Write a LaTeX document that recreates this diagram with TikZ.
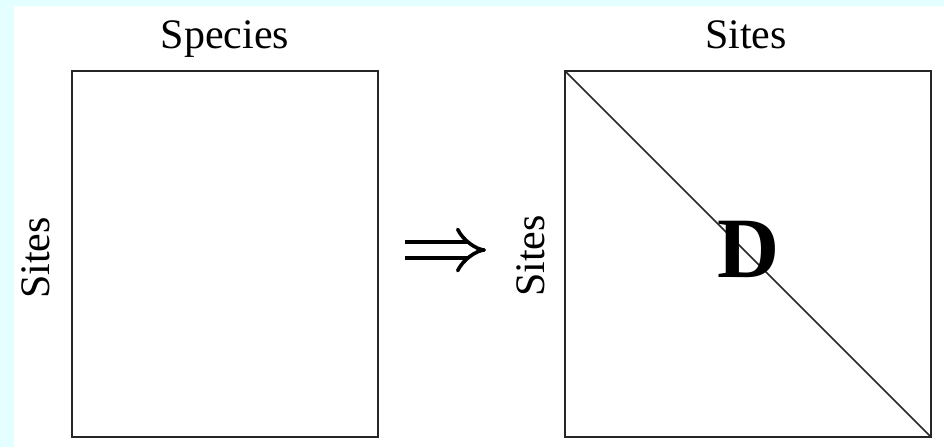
\documentclass[tikz,border=0pt]{standalone}
\usepackage{fontspec}
\setmainfont{Liberation Serif}
\usetikzlibrary{arrows.meta}
\definecolor{bgcyan}{HTML}{E3FFFF}

\begin{document}
\begin{tikzpicture}[
  x=1pt, y=-1pt,
  mat/.style  = {draw=black!85, line width=1.6pt, outer sep=0pt, inner sep=0pt},
  lbl/.style  = {font=\fontsize{42}{50}\selectfont, inner sep=0pt, anchor=base},
  imp/.style  = {double, double distance=12pt, line width=3.6pt, -{Implies}}
]

% ---- page ------------------------------------------------------------------
\fill[bgcyan] (0,0) rectangle (944,447);
\fill[white] (14,6) rectangle (944,447);
\useasboundingbox (0,0) rectangle (944,447);

% ---- species matrix --------------------------------------------------------
\node[mat, minimum width=306pt, minimum height=366pt] (spmat) at (225,254) {};
\node[lbl] (spcols) at (225,48) {Species};
\node[lbl, rotate=90] (sprows) at (49,258) {Sites};

% ---- arrow -----------------------------------------------------------------
\coordinate (arrL) at (405,250);
\coordinate (arrR) at (486,250);
\draw[imp] (arrL) -- (arrR);

% ---- distance matrix -------------------------------------------------------
\node[mat, minimum width=366pt, minimum height=366pt] (dmat) at (748,254) {};
\node[lbl] (dcols) at (746,48) {Sites};
\node[lbl, rotate=90] (drows) at (544,256) {Sites};
\draw[line width=1.6pt, draw=black!85] (dmat.north west) -- (dmat.south east);
\node[font=\fontsize{86}{90}\bfseries, inner sep=0pt] (dlbl) at (749,249) {D};

\end{tikzpicture}
\end{document}
